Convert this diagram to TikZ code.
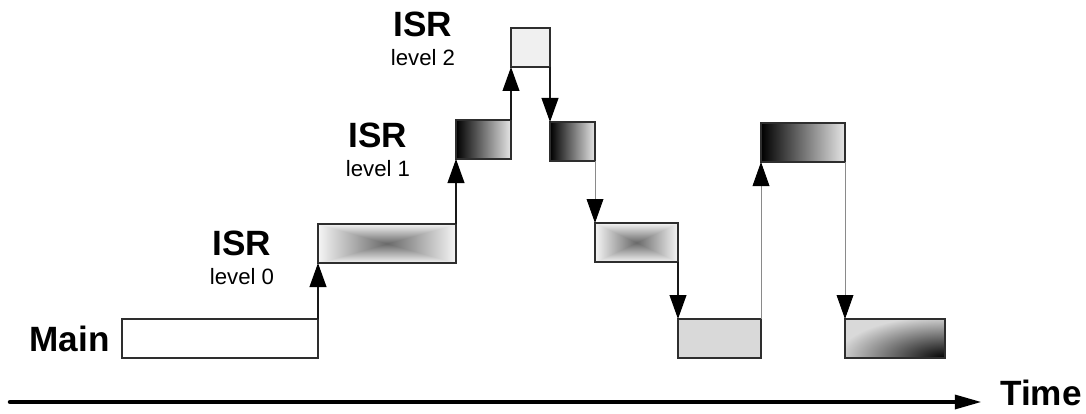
\documentclass[tikz,border=0pt]{standalone}
\usepackage{fontspec}
\setmainfont{Liberation Sans}
\usetikzlibrary{arrows.meta, positioning}
\definecolor{boxline}{HTML}{2E2E2E}
\definecolor{faintline}{HTML}{8A8A8A}
\definecolor{lite}{HTML}{F0F0F0}
\definecolor{midgray}{HTML}{D9D9D9}
% darkest in the middle, lighter towards every edge
\pgfdeclarefunctionalshading{xfade}{\pgfpoint{-50bp}{-50bp}}{\pgfpoint{50bp}{50bp}}{}{
  abs exch abs 2 copy lt {exch} if pop 25 div dup 1 gt {pop 1} if 0.55 mul 0.41 add dup dup}
% black in the lower right corner
\pgfdeclarefunctionalshading{cornerfade}{\pgfpoint{-50bp}{-50bp}}{\pgfpoint{50bp}{50bp}}{}{
  25 add dup mul exch 25 sub dup mul add sqrt 54 div dup 1 gt {pop 1} if 0.85 mul dup dup}
\begin{document}
\begin{tikzpicture}[
    n/.style={rectangle, draw=boxline, line width=1.2pt, inner sep=0pt, outer sep=0pt, minimum height=0.975cm},
    grad/.style={n, left color=black, right color=gray!20},
    diag/.style={n, shading=cornerfade},
    xbox/.style={n, shading=xfade},
    big/.style={font=\fontsize{25}{29}\selectfont\bfseries, inner sep=0pt},
    small/.style={font=\fontsize{15.8}{18}\selectfont, inner sep=0pt},
    link/.style={-{Triangle[length=0.6cm, width=0.42cm, color=black]}, line width=1.1pt, draw=black!90},
    faint/.style={-{Triangle[length=0.6cm, width=0.42cm, color=black]}, line width=0.6pt, draw=faintline},
    axis/.style={-{Triangle[length=0.68cm, width=0.34cm]}, line width=3.2pt, line cap=round}]
  \useasboundingbox (0,0) rectangle (27.15,10.325);

  % boxes
  \node[n, minimum width=4.9cm, anchor=north west] (main1) at (3.05,2.35) {};
  \node[xbox, minimum width=3.45cm, above right=1.4cm and 0cm of main1] (isr0a) {};
  \node[grad, minimum width=1.375cm, above right=1.625cm and 0cm of isr0a] (isr1a) {};
  \node[n, fill=lite, minimum width=0.975cm, above right=1.325cm and 0cm of isr1a] (isr2) {};
  \node[grad, minimum width=1.125cm, below right=1.375cm and 0cm of isr2] (isr1b) {};
  \node[xbox, minimum width=2.075cm, below right=1.55cm and 0cm of isr1b] (isr0b) {};
  \node[n, fill=midgray, minimum width=2.075cm, below right=1.425cm and 0cm of isr0b] (main2) {};
  \node[grad, minimum width=2.1cm, above right=3.925cm and 0cm of main2] (isr1c) {};
  \node[diag, minimum width=2.5cm, below right=3.925cm and 0cm of isr1c] (main3) {};

  % jumps between levels
  \draw[link] (main1.north east) -- (isr0a.south west);
  \draw[link] (isr0a.north east) -- (isr1a.south west);
  \draw[link] (isr1a.north east) -- (isr2.south west);
  \draw[link] (isr2.south east) -- (isr1b.north west);
  \draw[faint] (isr1b.south east) -- (isr0b.north west);
  \draw[link] (isr0b.south east) -- (main2.north west);
  \draw[faint] (main2.north east) -- (isr1c.south west);
  \draw[faint] (isr1c.south east) -- (main3.north west);

  % labels
  \node[big, left=0.3cm of main1] (mainlab) {Main};
  \node[big] (isr0lab) at (6.05,4.24) {ISR};
  \node[small, below=0.3cm of isr0lab] (lvl0) {level 0};
  \node[big] (isr1lab) at (9.45,6.95) {ISR};
  \node[small, below=0.3cm of isr1lab] (lvl1) {level 1};
  \node[big] (isr2lab) at (10.575,9.71) {ISR};
  \node[small, below=0.3cm of isr2lab] (lvl2) {level 2};

  % time axis
  \coordinate (t0) at (0.25,0.275);
  \coordinate (t1) at (24.55,0.275);
  \draw[axis] (t0) -- (t1);
  \node[big, anchor=base west] (time) at (25.0,0.2) {Time};
\end{tikzpicture}
\end{document}
